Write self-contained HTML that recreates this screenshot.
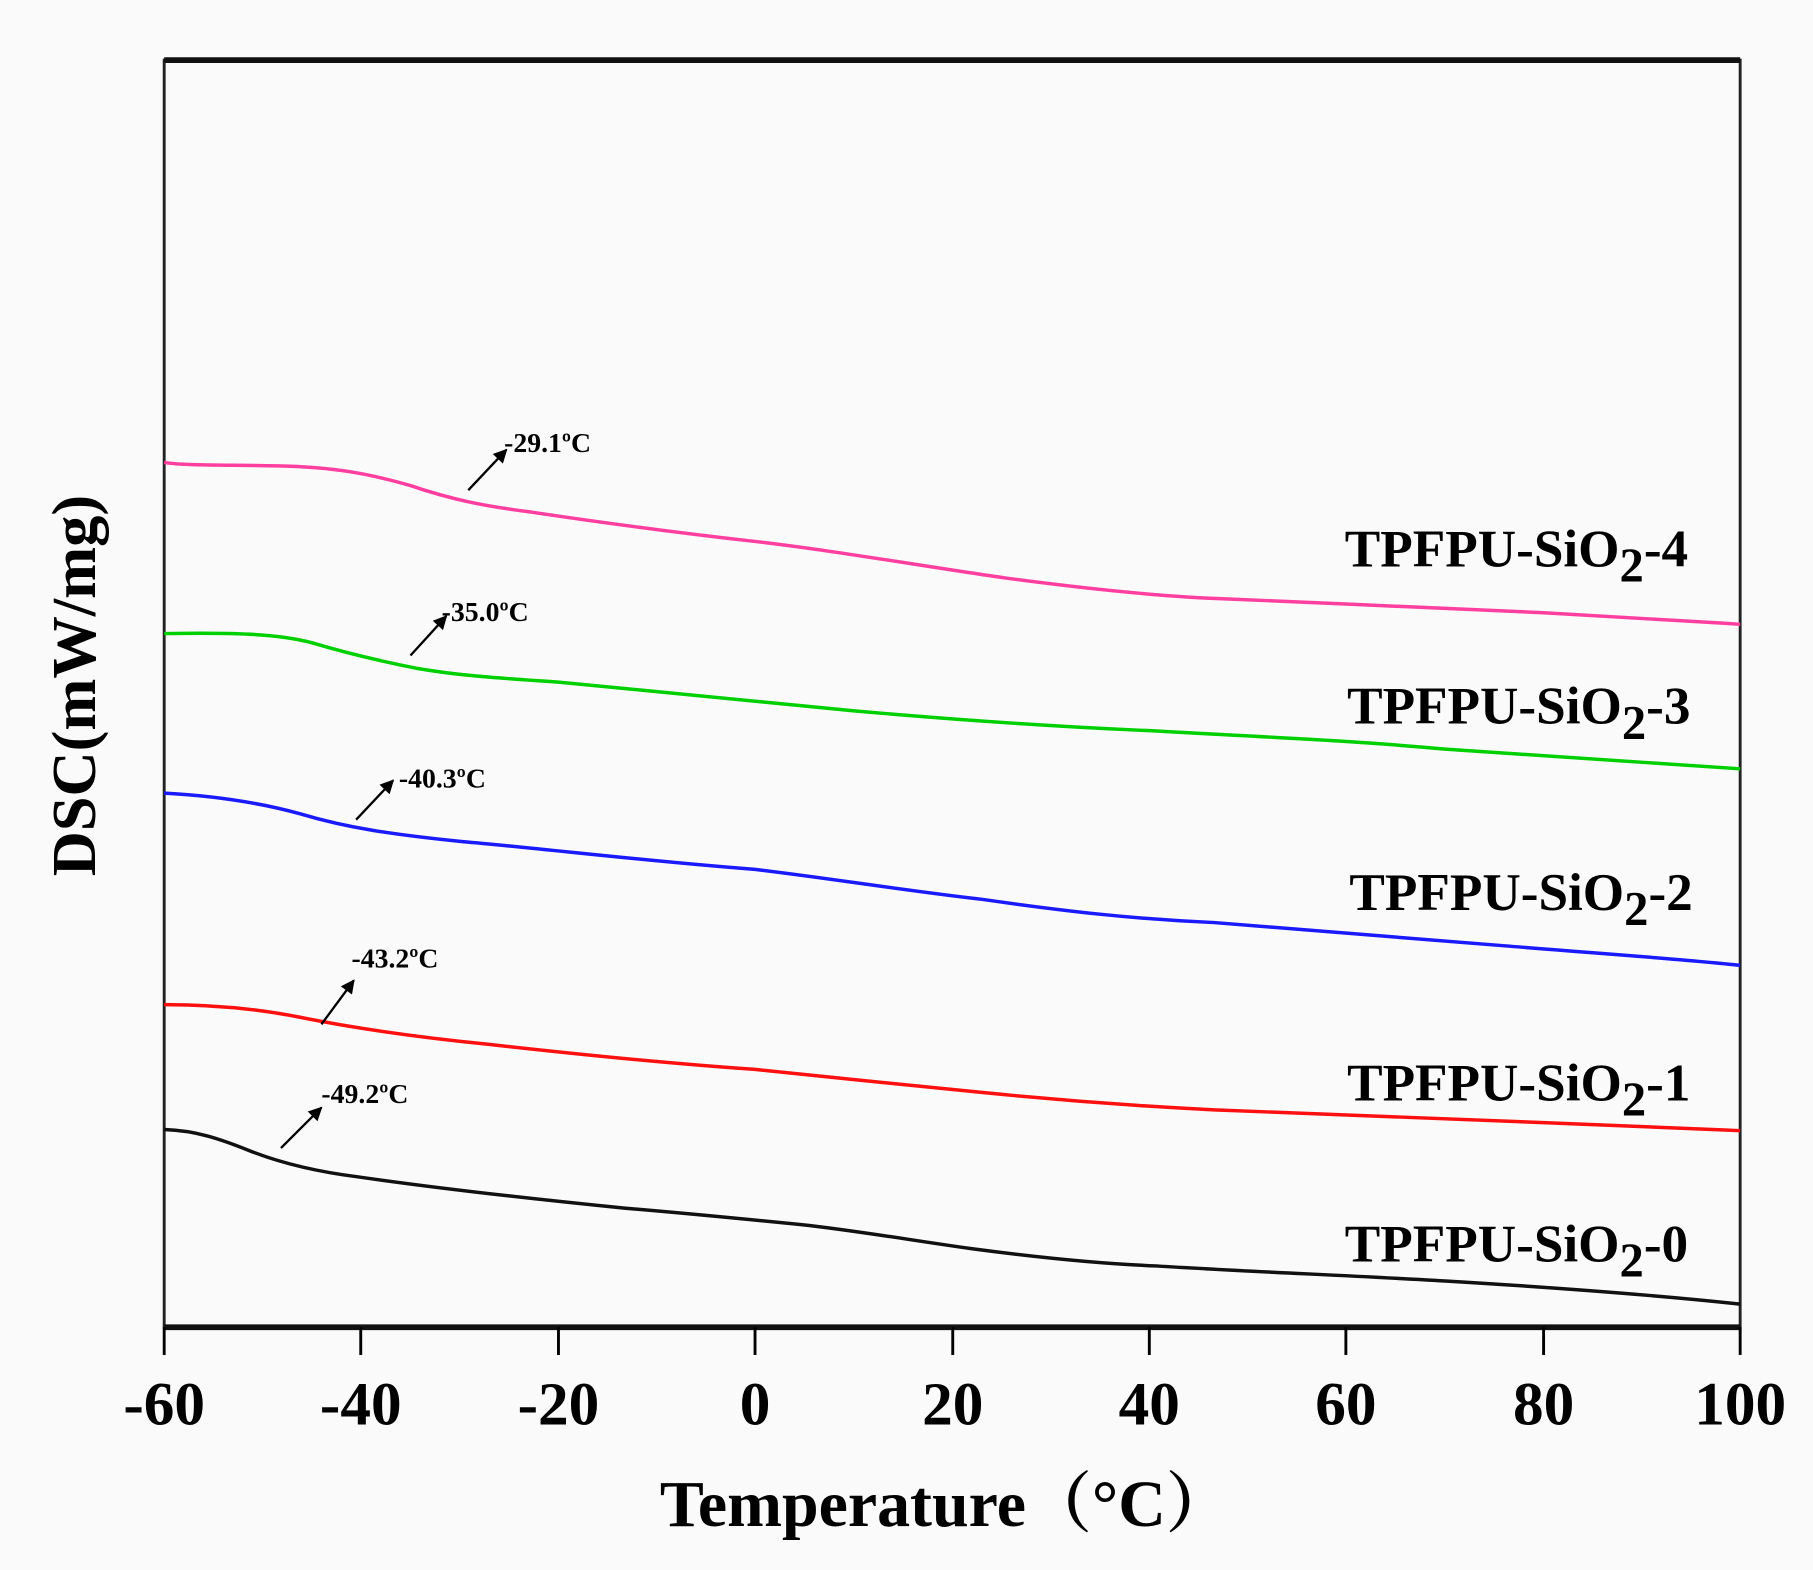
<!DOCTYPE html>
<html><head><meta charset="utf-8"><style>
html,body{margin:0;padding:0;background:#fafafa;}
svg{display:block;}
text{font-family:"Liberation Serif","Noto Serif CJK SC",serif;font-weight:bold;fill:#000;}
</style></head><body>
<svg width="1813" height="1570" viewBox="0 0 1568 1358" preserveAspectRatio="none" xmlns="http://www.w3.org/2000/svg">
<defs>
<marker id="ah2" viewBox="0 0 10 10" markerWidth="14" markerHeight="12" refX="9" refY="5" orient="auto" markerUnits="userSpaceOnUse"><path d="M0,0 L10,5 L0,10 Z" fill="#000"/></marker></defs>
<rect width="1568" height="1358" fill="#fafafa"/>
<rect x="142" y="52" width="1363" height="1096" fill="none" stroke="#222" stroke-width="2.5"/>
<line x1="142" y1="52" x2="1505" y2="52" stroke="#111" stroke-width="5"/>
<line x1="142" y1="1148" x2="1505" y2="1148" stroke="#111" stroke-width="5"/>
<g stroke="#000" stroke-width="2.5">
<line x1="142" y1="1148" x2="142" y2="1172"/><line x1="312" y1="1148" x2="312" y2="1172"/><line x1="483" y1="1148" x2="483" y2="1172"/><line x1="653" y1="1148" x2="653" y2="1172"/><line x1="824" y1="1148" x2="824" y2="1172"/><line x1="994" y1="1148" x2="994" y2="1172"/><line x1="1164" y1="1148" x2="1164" y2="1172"/><line x1="1335" y1="1148" x2="1335" y2="1172"/><line x1="1505" y1="1148" x2="1505" y2="1172"/>
</g>
<g font-size="53" text-anchor="middle">
<text x="142" y="1232">-60</text><text x="312" y="1232">-40</text><text x="483" y="1232">-20</text><text x="653" y="1232">0</text><text x="824" y="1232">20</text><text x="994" y="1232">40</text><text x="1164" y="1232">60</text><text x="1335" y="1232">80</text><text x="1505" y="1232">100</text>
</g>
<text x="818" y="1320" font-size="57" text-anchor="middle">Temperature（°C）</text>
<text transform="translate(82,593) rotate(-90)" font-size="54" text-anchor="middle">DSC(mW/mg)</text>
<g fill="none" stroke-width="3" stroke-linejoin="round">
<path stroke="#ff3fa0" d="M142,400 C160,403 200,402 240,403 C290,404 320,410 355,420 C390,432 420,438 460,443 C520,452 580,460 650,468 C720,476 800,490 870,500 C930,508 1000,516 1060,518 C1150,522 1250,526 1335,530 C1420,535 1460,537 1505,540"/>
<path stroke="#00d000" d="M142,548 C200,547 240,548 270,556 C300,565 330,572 360,578 C400,585 440,587 483,590 C560,597 640,605 740,615 C820,622 900,628 994,632 C1080,637 1164,640 1250,648 C1350,655 1430,660 1505,665"/>
<path stroke="#1a1aff" d="M142,686 C180,688 220,693 260,704 C300,716 340,722 400,728 C470,734 560,745 653,752 C720,760 780,770 850,778 C920,788 980,795 1050,798 C1120,803 1200,810 1300,818 C1400,826 1460,830 1505,835"/>
<path stroke="#ff1010" d="M142,869 C180,869 220,872 260,880 C300,888 350,896 420,903 C500,912 580,920 653,925 C720,932 780,938 850,945 C920,952 990,957 1050,960 C1164,964 1250,967 1335,971 C1420,975 1460,976 1505,978"/>
<path stroke="#111" d="M142,977 C170,978 190,985 215,995 C240,1005 270,1013 310,1018 C380,1028 450,1036 540,1045 C600,1050 650,1055 700,1060 C750,1066 790,1073 840,1080 C900,1088 950,1093 1000,1095 C1080,1100 1164,1103 1250,1108 C1350,1114 1430,1120 1505,1128"/>
</g>
<g stroke="#000" stroke-width="2" marker-end="url(#ah2)">
<line x1="405" y1="424" x2="438" y2="389"/>
<line x1="355" y1="567" x2="386" y2="533"/>
<line x1="308" y1="709" x2="340" y2="675"/>
<line x1="278" y1="886" x2="306" y2="848"/>
<line x1="243" y1="993" x2="278" y2="958"/>
</g>
<g font-size="24">
<text x="436" y="391">-29.1ºC</text>
<text x="382" y="537">-35.0ºC</text>
<text x="345" y="681">-40.3ºC</text>
<text x="304" y="837">-43.2ºC</text>
<text x="278" y="954">-49.2ºC</text>
</g>
<g font-size="46" text-anchor="end">
<text x="1460" y="490">TPFPU-SiO<tspan font-size="42" dy="13">2</tspan><tspan dy="-13">-4</tspan></text>
<text x="1462" y="626">TPFPU-SiO<tspan font-size="42" dy="13">2</tspan><tspan dy="-13">-3</tspan></text>
<text x="1464" y="787">TPFPU-SiO<tspan font-size="42" dy="13">2</tspan><tspan dy="-13">-2</tspan></text>
<text x="1462" y="952">TPFPU-SiO<tspan font-size="42" dy="13">2</tspan><tspan dy="-13">-1</tspan></text>
<text x="1460" y="1091">TPFPU-SiO<tspan font-size="42" dy="13">2</tspan><tspan dy="-13">-0</tspan></text>
</g>
</svg>
</body></html>
